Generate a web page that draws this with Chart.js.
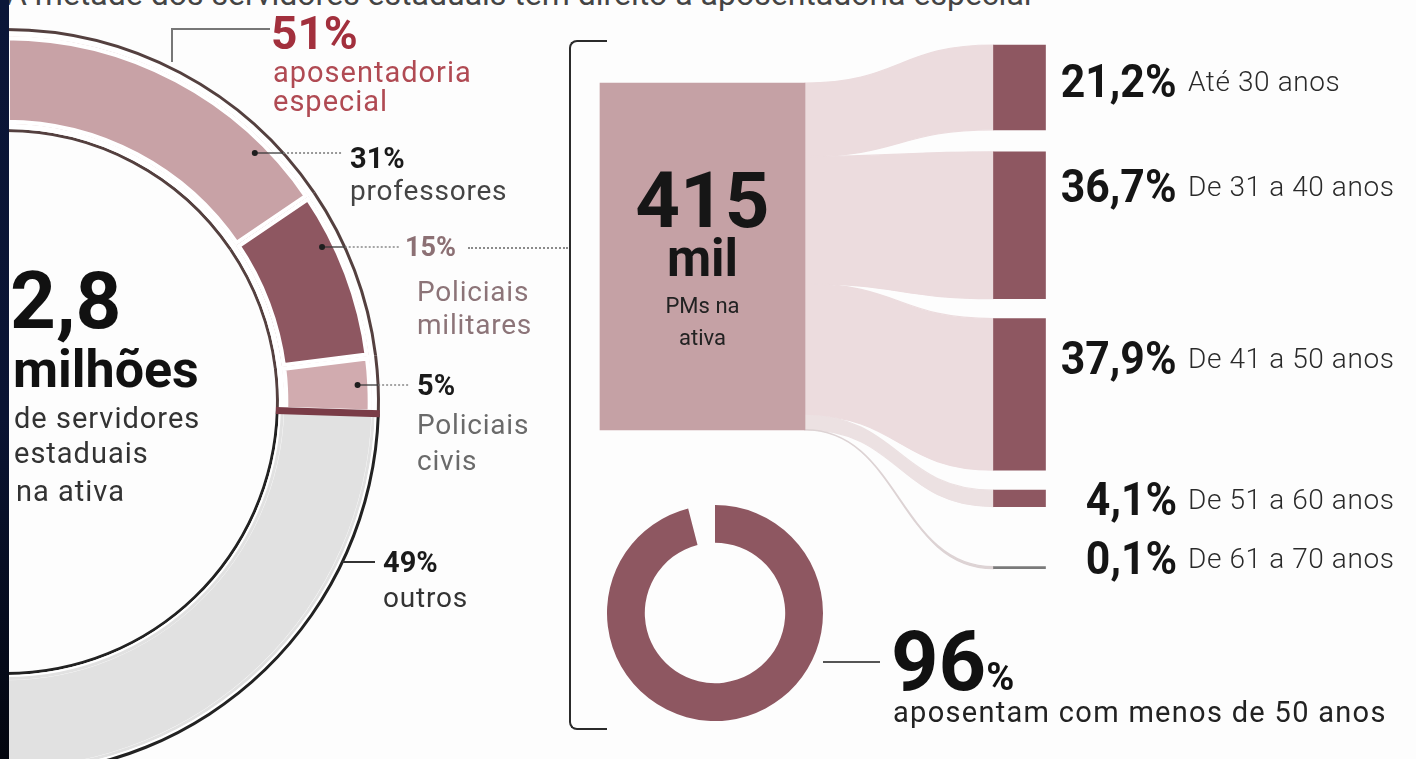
<!DOCTYPE html>
<html lang="pt-BR">
<head>
<meta charset="utf-8">
<title>Aposentadoria especial</title>
<script src="https://cdn.jsdelivr.net/npm/chart.js@4.4.1/dist/chart.umd.min.js"></script>
<style>
  html, body { margin: 0; padding: 0; }
  body {
    width: 1416px; height: 759px; overflow: hidden; position: relative;
    background: #fdfdfd; color: #222;
    font-family: Roboto, "Open Sans", "Liberation Sans", sans-serif;
  }
  .box { position: absolute; }
  .t { position: absolute; white-space: nowrap; line-height: 1; }
  .b { font-weight: 700; }
  .strip {
    position: absolute; left: 0; top: 0; width: 9px; height: 759px; z-index: 5;
    background: linear-gradient(#0b1638, #0a1433 55%, #03060f);
  }
  .bracket {
    position: absolute; left: 569px; top: 40px; width: 36px; height: 686px;
    border: 2.5px solid #2b2b2b; border-right: none; border-radius: 8px 0 0 8px;
  }
  .corner {
    position: absolute; left: 171px; top: 28px; width: 97px; height: 32px;
    border-left: 2px solid #777; border-top: 2px solid #777;
  }
  .dots { position: absolute; height: 0; border-top: 2px dotted #8a8a8a; }
  .rule { position: absolute; height: 2px; background: #555; }
  .body { font-size: 28px; letter-spacing: 0.8px; }
  .pct { font-weight: 700; font-size: 46px; transform: scaleX(0.93); transform-origin: right center; color: #151515; }
  .age { font-size: 28px; font-weight: 300; letter-spacing: 0.6px; color: #2a2a2a; }
</style>
</head>
<body>

<div class="t" style="left:6px; top:-22px; font-size:32px; color:#444;">A metade dos servidores estaduais tem direito à aposentadoria especial</div>

<div class="box" style="left:-127px; top:22px; width:640px; height:760px;"><canvas id="servidores"></canvas></div>
<div class="box" style="left:544px; top:0; width:634px; height:759px;"><canvas id="pms"></canvas></div>
<div class="box" style="left:607px; top:505px; width:216px; height:216px;"><canvas id="aposentam"></canvas></div>

<div class="strip"></div>
<div class="corner"></div>
<div class="bracket"></div>
<div class="dots" style="left:468px; top:247px; width:100px;"></div>
<div class="rule" style="left:823px; top:661px; width:57px;"></div>

<!-- servidores -->
<div class="t b" style="left:10px; top:261px; font-size:80px; color:#111;">2,8</div>
<div class="t b" style="left:13px; top:344px; font-size:52px; color:#111;">milhões</div>
<div class="t" style="left:14px; top:404px; font-size:29px; letter-spacing:1px; color:#333;">de servidores</div>
<div class="t" style="left:14px; top:439px; font-size:29px; letter-spacing:1px; color:#333;">estaduais</div>
<div class="t" style="left:16px; top:477px; font-size:29px; letter-spacing:1px; color:#333;">na ativa</div>

<div class="t b" id="lblEspecial" style="left:271px; top:10px; font-size:46px; color:#a2303d;"></div>
<div class="t" style="left:273px; top:58px; font-size:29px; letter-spacing:1px; color:#b04a53;">aposentadoria</div>
<div class="t" style="left:273px; top:87px; font-size:29px; letter-spacing:1px; color:#b04a53;">especial</div>

<div class="t b" id="lblSeg0" style="left:350px; top:144px; font-size:29px; color:#1a1a1a;"></div>
<div class="t body" id="nameSeg0" style="left:350px; top:177px; color:#444;"></div>
<div class="t b" id="lblSeg1" style="left:405px; top:234px; font-size:27px; color:#8c7074;"></div>
<div class="t body" style="left:417px; top:278px; color:#8c7478;">Policiais</div>
<div class="t body" style="left:417px; top:311px; color:#8c7478;">militares</div>
<div class="t b" id="lblSeg2" style="left:417px; top:371px; font-size:29px; color:#1a1a1a;"></div>
<div class="t body" style="left:417px; top:411px; color:#6a6a6a;">Policiais</div>
<div class="t body" style="left:417px; top:447px; color:#6a6a6a;">civis</div>
<div class="t b" id="lblSeg3" style="left:383px; top:548px; font-size:29px; color:#1a1a1a;"></div>
<div class="t body" id="nameSeg3" style="left:383px; top:584px; color:#333;"></div>

<!-- PMs -->
<div class="t b" style="left:600px; width:205px; text-align:center; top:162px; font-size:78px; color:#161616;">415</div>
<div class="t b" style="left:600px; width:205px; text-align:center; top:233px; font-size:51px; color:#161616;">mil</div>
<div class="t" style="left:600px; width:205px; text-align:center; top:295px; font-size:22px; color:#222;">PMs na</div>
<div class="t" style="left:600px; width:205px; text-align:center; top:327px; font-size:22px; color:#222;">ativa</div>

<div id="idadeLabels"></div>

<div class="t b" style="left:891px; top:620px; font-size:83px; color:#111;"><span id="lblAposentam"></span><span style="font-size:38px;">%</span></div>
<div class="t" style="left:893px; top:698px; font-size:29px; letter-spacing:1.3px; color:#222;">aposentam com menos de 50 anos</div>

<script>
// Servidores estaduais na ativa, por categoria (%)
const servidoresLabels = ['professores', 'Policiais militares', 'Policiais civis', 'outros'];
const servidoresShares = [31, 15, 5, 49];
const especialShare = 51;

// PMs na ativa, por faixa etária (%)
const idadeLabels = ['Até 30 anos', 'De 31 a 40 anos', 'De 41 a 50 anos', 'De 51 a 60 anos', 'De 61 a 70 anos'];
const idadeShares = [21.2, 36.7, 37.9, 4.1, 0.1];

// PMs que se aposentam com menos de 50 anos (%)
const aposentamLabels = ['menos de 50 anos', 'demais'];
const aposentamShares = [96, 4];

const fmt = v => String(v).replace('.', ',') + '%';

// ---------- labels from the data ----------
document.getElementById('lblEspecial').textContent = especialShare + '%';
servidoresShares.forEach((v, i) => {
  document.getElementById('lblSeg' + i).textContent = v + '%';
});
document.getElementById('nameSeg0').textContent = servidoresLabels[0];
document.getElementById('nameSeg3').textContent = servidoresLabels[3];
document.getElementById('lblAposentam').textContent = aposentamShares[0];

const rowY = [80, 185, 357, 498, 557];
const labelBox = document.getElementById('idadeLabels');
idadeShares.forEach((v, i) => {
  const p = document.createElement('div');
  p.className = 't pct';
  p.style.right = (1416 - 1177) + 'px';
  p.style.top = (rowY[i] - 22) + 'px';
  p.textContent = fmt(v);
  labelBox.appendChild(p);
  const a = document.createElement('div');
  a.className = 't age';
  a.style.left = '1188px';
  a.style.top = (rowY[i] - 12) + 'px';
  a.textContent = idadeLabels[i];
  labelBox.appendChild(a);
});

// ---------- big half ring ----------
const WHITE = '#ffffff';
const segColors = ['#c8a2a6', '#8e5761', '#d1abaf', '#e1e1e1'];
const outlineColors = ['#54403f', '#54403f', '#54403f', '#222222'];
const gapColors = [WHITE, WHITE, WHITE, segColors[3]];

function ring(weight, colors) {
  return { data: servidoresShares, weight, backgroundColor: colors, borderWidth: 0 };
}

// dark rule between the "especial" block and "outros"
const separatorPlugin = {
  id: 'separator',
  afterDatasetsDraw(chart) {
    const arc = chart.getDatasetMeta(3).data[2];
    const rOut = chart.getDatasetMeta(0).data[2].outerRadius;
    const rIn = chart.getDatasetMeta(6).data[2].innerRadius;
    const a = arc.endAngle;
    const ctx = chart.ctx;
    ctx.save();
    ctx.strokeStyle = '#7a3c47';
    ctx.lineWidth = 7;
    ctx.beginPath();
    ctx.moveTo(arc.x + Math.cos(a) * rIn, arc.y + Math.sin(a) * rIn);
    ctx.lineTo(arc.x + Math.cos(a) * rOut, arc.y + Math.sin(a) * rOut);
    ctx.stroke();
    ctx.restore();
  }
};

// callout lines: row offset from the centre, end of the line, dot or not
const leaderRows = [
  { dy: -249, dx: 336, dot: true },
  { dy: -155, dx: 394, dot: true },
  { dy: -17, dx: 404, dot: true },
  { dy: 160, dx: 369, dot: false }
];
const leaderPlugin = {
  id: 'leaders',
  afterDatasetsDraw(chart) {
    const body = chart.getDatasetMeta(3).data[0];
    const rLine = chart.getDatasetMeta(0).data[0].outerRadius - 1.5;
    const rDot = body.outerRadius - 14;
    const cx = body.x, cy = body.y;
    const ctx = chart.ctx;
    ctx.save();
    leaderRows.forEach(row => {
      const y = cy + row.dy;
      const xLine = cx + Math.sqrt(rLine * rLine - row.dy * row.dy);
      const xEnd = cx + row.dx;
      if (row.dot) {
        const xDot = cx + Math.sqrt(rDot * rDot - row.dy * row.dy);
        ctx.setLineDash([]);
        ctx.strokeStyle = '#3a3a3a';
        ctx.lineWidth = 1.3;
        ctx.beginPath(); ctx.moveTo(xDot, y); ctx.lineTo(xLine, y); ctx.stroke();
        ctx.setLineDash([2, 2]);
        ctx.strokeStyle = '#777';
        ctx.beginPath(); ctx.moveTo(xLine, y); ctx.lineTo(xEnd, y); ctx.stroke();
        ctx.fillStyle = '#1e1e1e';
        ctx.beginPath(); ctx.arc(xDot, y, 3, 0, Math.PI * 2); ctx.fill();
      } else {
        ctx.setLineDash([]);
        ctx.strokeStyle = '#333';
        ctx.lineWidth = 2;
        ctx.beginPath(); ctx.moveTo(xLine, y); ctx.lineTo(xEnd, y); ctx.stroke();
      }
    });
    ctx.restore();
  }
};

new Chart(document.getElementById('servidores'), {
  type: 'doughnut',
  data: {
    labels: servidoresLabels,
    datasets: [
      ring(3, outlineColors),
      ring(2, WHITE),
      ring(3, gapColors),
      {
        data: servidoresShares, weight: 88, backgroundColor: segColors,
        borderColor: WHITE, borderWidth: [4, 4, 4, 0], borderAlign: 'inner'
      },
      ring(3, gapColors),
      ring(2, WHITE),
      ring(3, outlineColors)
    ]
  },
  options: {
    responsive: true, maintainAspectRatio: false, animation: false, events: [],
    rotation: 0, circumference: 180, radius: 374, cutout: '72.19%',
    layout: { padding: 0 },
    plugins: { legend: { display: false }, tooltip: { enabled: false } }
  },
  plugins: [separatorPlugin, leaderPlugin]
});

// ---------- PMs by age: block, bars and flows ----------
// y axis in percentage points, 4 px per point
const Y_MAX = 759 / 4;
const RECT_TOP = 20.75, RECT_SPAN = 86.75;
const BAR_FIRST = 11.25;
const BAR_GAPS = [5.5, 5, 5, 15];

const idadeRanges = [];
let cursor = BAR_FIRST;
idadeShares.forEach((s, i) => {
  idadeRanges.push([cursor, cursor + s]);
  cursor += s + (BAR_GAPS[i] || 0);
});

const pmDatasets = [{
  label: 'PMs na ativa',
  data: [[RECT_TOP, RECT_TOP + RECT_SPAN], null],
  backgroundColor: '#c5a1a5', barThickness: 205, grouped: false
}];
idadeRanges.forEach((r, i) => {
  pmDatasets.push({
    label: idadeLabels[i],
    data: [null, r],
    backgroundColor: i === idadeRanges.length - 1 ? '#7a7a7a' : '#8e5761',
    barThickness: 52, grouped: false, minBarLength: 2
  });
});

const flowColors = ['#ecdcde', '#ecdcde', '#ecdcde', '#ece1e2', '#ddd3d4'];
const flowPlugin = {
  id: 'flows',
  beforeDatasetsDraw(chart) {
    const y = chart.scales.y;
    const block = chart.getDatasetMeta(0).data[0];
    const x0 = block.x + block.width / 2;
    const ctx = chart.ctx;
    ctx.save();
    let cum = 0;
    idadeShares.forEach((share, i) => {
      const bar = chart.getDatasetMeta(i + 1).data[1];
      const x1 = bar.x - bar.width / 2;
      const l0 = y.getPixelForValue(RECT_TOP + RECT_SPAN * cum / 100);
      const l1 = y.getPixelForValue(RECT_TOP + RECT_SPAN * (cum + share) / 100);
      const r0 = Math.min(bar.y, bar.base), r1 = Math.max(bar.y, bar.base);
      const xm = (x0 + x1) / 2;
      ctx.beginPath();
      ctx.moveTo(x0, l0);
      ctx.bezierCurveTo(xm, l0, xm, r0, x1, r0);
      ctx.lineTo(x1, r1);
      ctx.bezierCurveTo(xm, r1, xm, l1, x0, l1);
      ctx.closePath();
      ctx.fillStyle = flowColors[i];
      ctx.strokeStyle = flowColors[i];
      ctx.lineWidth = 1.2;
      ctx.fill();
      ctx.stroke();
      cum += share;
    });
    ctx.restore();
  }
};

new Chart(document.getElementById('pms'), {
  type: 'bar',
  data: { labels: ['PMs na ativa', 'Faixa etária'], datasets: pmDatasets },
  options: {
    responsive: true, maintainAspectRatio: false, animation: false, events: [],
    layout: { padding: 0 },
    scales: {
      x: { display: false, offset: true },
      y: { display: false, reverse: true, min: 0, max: Y_MAX }
    },
    plugins: { legend: { display: false }, tooltip: { enabled: false } }
  },
  plugins: [flowPlugin]
});

// ---------- 96% ring ----------
new Chart(document.getElementById('aposentam'), {
  type: 'doughnut',
  data: {
    labels: aposentamLabels,
    datasets: [{ data: aposentamShares, backgroundColor: ['#8e5761', 'rgba(0,0,0,0)'], borderWidth: 0 }]
  },
  options: {
    responsive: true, maintainAspectRatio: false, animation: false, events: [],
    cutout: '65%', rotation: 0,
    layout: { padding: 0 },
    plugins: { legend: { display: false }, tooltip: { enabled: false } }
  }
});
</script>
</body>
</html>
